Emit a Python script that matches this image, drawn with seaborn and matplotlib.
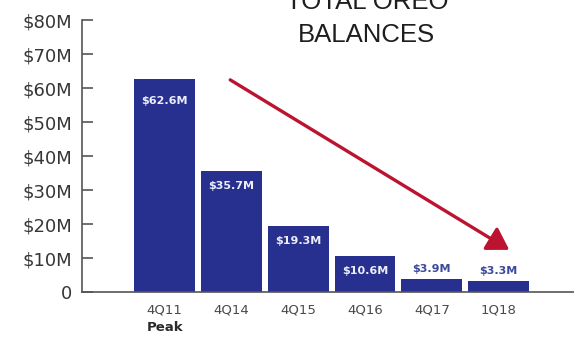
import matplotlib
matplotlib.use("Agg")
import matplotlib.pyplot as plt
import seaborn as sns
import pandas as pd

# Quarterly OREO balances, in $ millions
quarters = ["4Q11", "4Q14", "4Q15", "4Q16", "4Q17", "1Q18"]
balances = [62.6, 35.7, 19.3, 10.6, 3.9, 3.3]
value_labels = ["$62.6M", "$35.7M", "$19.3M", "$10.6M", "$3.9M", "$3.3M"]
y_ticks = [0, 10, 20, 30, 40, 50, 60, 70, 80]
y_tick_labels = ["0", "$10M", "$20M", "$30M", "$40M", "$50M", "$60M", "$70M", "$80M"]
title_lines = ["TOTAL OREO", "BALANCES"]
peak_note = "Peak"

NAVY = "#27308f"
CRIMSON = "#bb1330"
GREY = "#363636"

sns.set_theme(style="white")
plt.rcParams["font.family"] = ["DejaVu Sans"]

df = pd.DataFrame({"quarter": quarters, "balance": balances})

fig = plt.figure(figsize=(5.74, 3.37), dpi=100)
ax = fig.add_axes([0.1429, 0.1335, 0.8571, 0.8071])

sns.barplot(data=df, x="quarter", y="balance", color=NAVY, saturation=1,
            width=0.91, ax=ax, edgecolor="none")

ax.set_xlim(-1.24, 6.13)
ax.set_ylim(0, 80)
ax.set_xlabel("")
ax.set_ylabel("")

# axes styling
for side in ("top", "right"):
    ax.spines[side].set_visible(False)
for side in ("left", "bottom"):
    ax.spines[side].set_color("#555555")
    ax.spines[side].set_linewidth(1.2)
ax.spines["bottom"].set_clip_on(False)

ax.set_yticks(y_ticks)
ax.set_yticklabels(y_tick_labels)
ax.tick_params(axis="y", direction="in", length=8, width=1.2, color="#555555",
               pad=7, labelsize=13, labelcolor=GREY, left=True)
ax.tick_params(axis="x", length=0, pad=8, labelsize=9.5, labelcolor="#4a4a4a")

# "Peak" note under the first quarter
ax.annotate(peak_note, xy=(0, 0), xycoords="data", xytext=(0, -35),
            textcoords="offset pixels", ha="center", va="center",
            fontsize=9.5, fontweight="bold", color="#2a2a2a")

# value labels: inside tall bars, above the short ones
for i, (v, lab) in enumerate(zip(balances, value_labels)):
    if v > 8:
        off = -22 if i == 0 else -15
        ax.annotate(lab, xy=(i, v), xytext=(0, off), textcoords="offset pixels",
                    ha="center", va="center", fontsize=8, fontweight="bold",
                    color="#eceefa")
    else:
        ax.annotate(lab, xy=(i, v), xytext=(0, 10), textcoords="offset pixels",
                    ha="center", va="center", fontsize=8, fontweight="bold",
                    color="#3b4a9c")

# downward trend arrow
ax.annotate("", xy=(5.16, 12.4), xytext=(0.98, 62.4),
            arrowprops=dict(arrowstyle="-|>,head_length=0.65,head_width=0.4",
                            mutation_scale=20, color=CRIMSON, lw=2.4,
                            shrinkA=0, shrinkB=0))

# title, partly running off the top edge
fig.text(0.639, 1 - 42 / 337, title_lines[1], ha="center", va="baseline",
         fontsize=18.5, family="Liberation Sans", color="#1e1e1e")
fig.text(0.639, 1 - 9 / 337, title_lines[0], ha="center", va="baseline",
         fontsize=18.5, family="Liberation Sans", color="#1e1e1e")

fig.savefig("out.png", dpi=100, facecolor="white")
